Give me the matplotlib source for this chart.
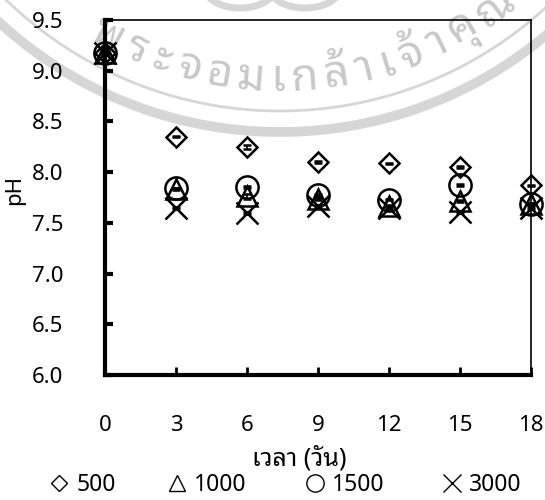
import numpy as np
import matplotlib
matplotlib.use("Agg")
import matplotlib.pyplot as plt
from matplotlib.lines import Line2D
from matplotlib.patches import Ellipse
from matplotlib.textpath import TextPath
from matplotlib.font_manager import FontProperties

# pH over storage time for four concentrations
days = [0, 3, 6, 9, 12, 15, 18]
ph_500 = [9.17, 8.35, 8.25, 8.10, 8.09, 8.05, 7.87]
ph_1000 = [9.17, 7.83, 7.76, 7.74, 7.67, 7.72, 7.69]
ph_1500 = [9.17, 7.84, 7.85, 7.77, 7.73, 7.87, 7.69]
ph_3000 = [9.17, 7.65, 7.60, 7.67, 7.65, 7.61, 7.65]
sd_500 = [0.01, 0.005, 0.02, 0.005, 0.005, 0.01, 0.005]
sd_1000 = [0.01, 0.01, 0.02, 0.01, 0.01, 0.01, 0.01]
sd_1500 = [0.01, 0.005, 0.01, 0.01, 0.005, 0.01, 0.005]
sd_3000 = [0.01, 0.01, 0.01, 0.01, 0.01, 0.01, 0.01]
labels = ["500", "1000", "1500", "3000"]
yticks = [6.0, 6.5, 7.0, 7.5, 8.0, 8.5, 9.0, 9.5]

thai_font = "Noto Sans Thai Looped"
num_font = "Noto Sans"

fig = plt.figure(figsize=(5.45, 5.0), dpi=100)

# university seal in the background: ring, curved name, logo loops
bg = fig.add_axes([0, 0, 1, 1], zorder=0)
bg.set_xlim(0, 545)
bg.set_ylim(0, 500)
bg.axis("off")
band_grey = "#d6d6d6"
text_grey = "#c8c8c8"
cx, cy = 280.0, 782.0
t = np.linspace(-np.pi / 2 - 1.2, -np.pi / 2 + 1.2, 400)
bg.plot(cx + 414 * np.cos(t), cy + 414 * np.sin(t), color=band_grey, lw=7)
bg.plot(cx + 393 * np.cos(t), cy + 393 * np.sin(t), color=band_grey, lw=2)
for ex in [240, 305]:
    bg.add_patch(Ellipse((ex, 512), 70, 40, fill=False, ec=band_grey, lw=5))

seal_text = ["พ", "ร", "ะ", "จ", "อ", "ม", "เ", "ก", "ล้", "า", "เ", "จ้", "า", "คุ", "ณ"]
fp = FontProperties(family=thai_font, weight="bold", size=32)
widths = [TextPath((0, 0), s, prop=fp).get_extents().width * 100 / 72 + 11 for s in seal_text]
r_text = 362.0
s = -sum(widths[:6]) - 12
for ch, w in zip(seal_text, widths):
    phi = (s + w / 2) / r_text
    x = cx + r_text * np.sin(phi)
    y = cy - r_text * np.cos(phi)
    bg.text(x, y, ch, fontproperties=fp, color=text_grey, rotation=np.degrees(phi),
            rotation_mode="anchor", ha="center", va="center")
    s += w

ax = fig.add_axes([105 / 545, 125 / 500, 426 / 545, 355 / 500], zorder=1)
ax.patch.set_alpha(0)

series = [
    (ph_500, sd_500, "D", 10),
    (ph_1000, sd_1000, "^", 15),
    (ph_1500, sd_1500, "o", 16),
    (ph_3000, sd_3000, "x", 16),
]
handles = []
for (vals, sd, mk, ms), lab in zip(series, labels):
    ax.errorbar(days, vals, yerr=sd, fmt=mk, ms=ms, mfc="none", mec="black",
                mew=1.8, ecolor="black", elinewidth=1.2, capsize=3, capthick=1.5,
                clip_on=False)
    handles.append(Line2D([], [], ls="none", marker=mk, ms=ms * 0.78, mfc="none",
                          mec="black", mew=1.0, label=lab))

ax.set_xlim(0, 18)
ax.set_ylim(6.0, 9.5)
ax.set_xticks(days)
ax.set_yticks(yticks)
ax.set_yticklabels(["%.1f" % v for v in yticks])
ax.tick_params(axis="y", direction="in", length=6, width=3, pad=30, labelsize=16)
ax.tick_params(axis="x", direction="in", length=6, width=2, pad=29, labelsize=16)
for lab in ax.get_xticklabels() + ax.get_yticklabels():
    lab.set_family(num_font)

ax.spines["left"].set_linewidth(3)
ax.spines["bottom"].set_linewidth(3)
ax.spines["top"].set_linewidth(1.2)
ax.spines["right"].set_linewidth(1.2)

ax.set_ylabel("pH", fontsize=16, family=num_font)
ax.yaxis.set_label_coords(-0.188, 0.52)
ax.set_xlabel("เวลา (วัน)", fontsize=18, family=[thai_font, "DejaVu Sans"])
ax.xaxis.set_label_coords(0.455, -0.2)

# one legend entry per concentration, spread along the bottom
legend_x = [50, 168, 306, 443]
for h, lx in zip(handles, legend_x):
    fig.legend(handles=[h], loc="center left", bbox_to_anchor=(lx / 545, 0.03),
               frameon=False, prop={"family": num_font, "size": 16.5},
               borderpad=0, borderaxespad=0, handlelength=0.8, handletextpad=0.35)

fig.savefig("out.png", dpi=100)
